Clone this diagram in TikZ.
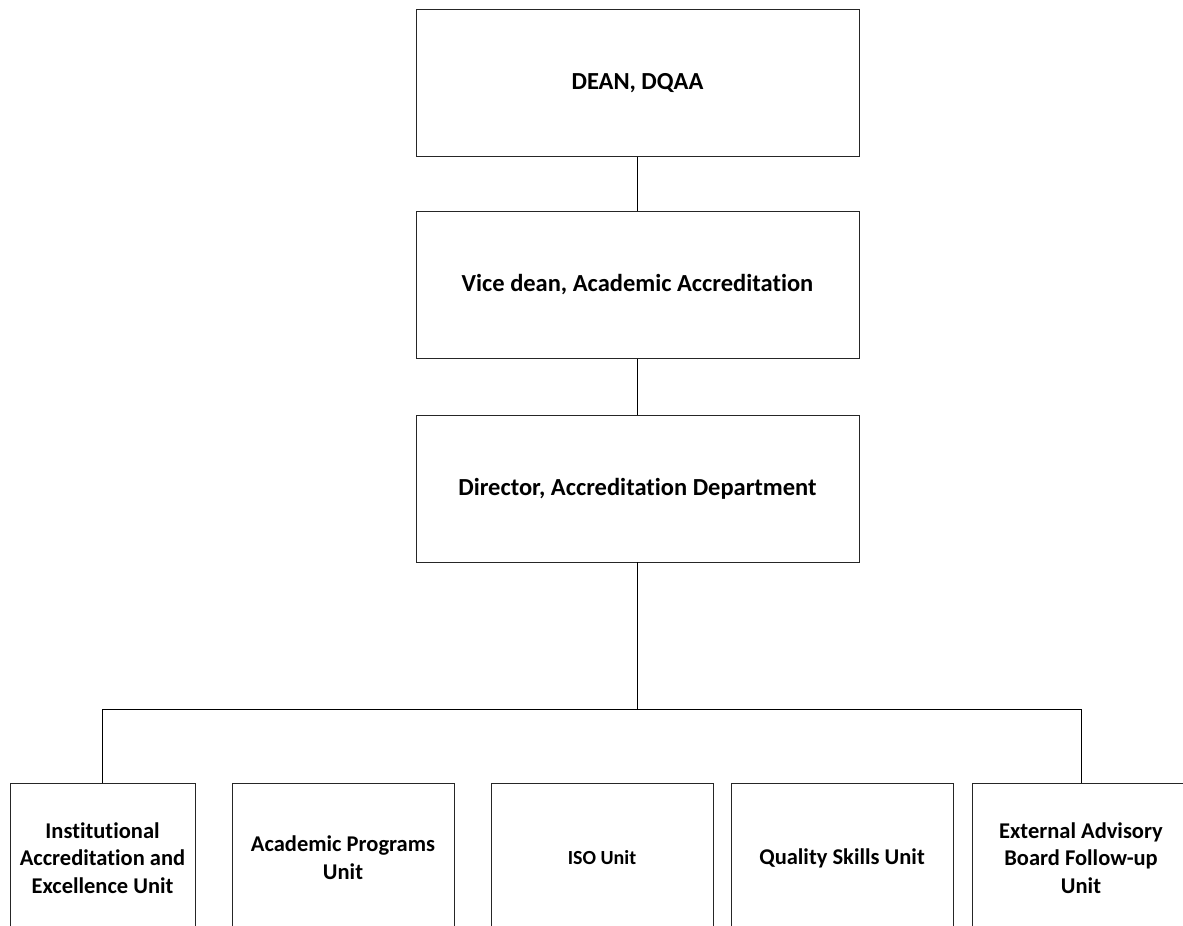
\documentclass[tikz,border=0pt]{standalone}
\usepackage{fontspec}
\setmainfont[Ligatures={NoCommon}]{Carlito}
\begin{document}
\begin{tikzpicture}[x=1pt,y=-1pt,
  box/.style={draw=black!85, line width=0.9pt, rectangle, align=center,
    inner sep=0pt, font=\bfseries\fontsize{22.5}{27.7}\selectfont},
  headbox/.style={box, minimum width=443pt, minimum height=147pt,
    font=\bfseries\fontsize{24.5}{29}\selectfont},
  unitbox/.style={box, minimum height=150pt},
  link/.style={draw=black, line width=0.9pt}]
\useasboundingbox (0,0) rectangle (1183,926);
\clip (0,0) rectangle (1183,926);

% management chain
\node[headbox] (dean) at (637.5,83) {DEAN, DQAA};
\node[headbox] (vice) at (637.5,285) {Vice dean, Academic Accreditation};
\node[headbox] (dir)  at (637.5,488.5) {Director, Accreditation Department};

% units
\node[unitbox, minimum width=185pt] (u1) at (102.5,858)
  {Institutional\\Accreditation and\\Excellence Unit};
\node[unitbox, minimum width=222pt] (u2) at (343,858)
  {Academic Programs\\Unit};
\node[unitbox, minimum width=222pt, font=\bfseries\fontsize{20}{24}\selectfont] (u3) at (602,858)
  {ISO Unit};
\node[unitbox, minimum width=222pt] (u4) at (842,858)
  {Quality Skills Unit};
\node[unitbox, minimum width=218pt] (u5) at (1081,858)
  {External Advisory\\Board Follow-up\\Unit};

\coordinate (bus) at (637.5,709);

% connectors
\draw[link] (dean.south) -- (vice.north);
\draw[link] (vice.south) -- (dir.north);
\draw[link] (dir.south) -- (bus);
\draw[link] (u1.north) -- (u1.north |- bus) -- (u5.north |- bus) -- (u5.north);
\end{tikzpicture}
\end{document}
